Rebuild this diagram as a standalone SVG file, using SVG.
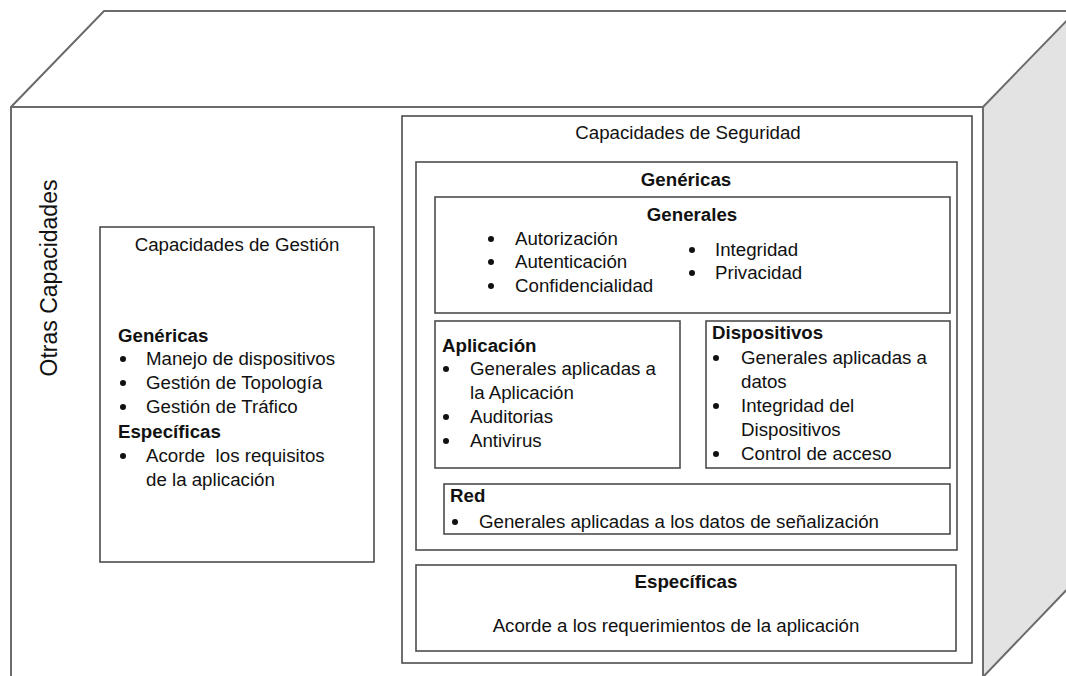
<svg xmlns="http://www.w3.org/2000/svg" width="1066" height="676" viewBox="0 0 1066 676">
<style>
text{font-family:"Liberation Sans",Arial,sans-serif;font-size:18.7px;fill:#111}
.b{font-weight:bold}
.m{text-anchor:middle}
.bl{fill:#111}
.box{fill:#fff;stroke:#4d4d4d;stroke-width:1.6}
.edge{fill:none;stroke:#6b6b6b;stroke-width:2}
</style>
<defs><circle id="dot" r="3" class="bl"/></defs>
<rect width="1066" height="676" fill="#fff"/>
<g id="cube">
<polygon points="983,107 1076,11 1076,580 983,677" fill="#e3e3e3" stroke="none"/>
<polyline class="edge" points="11,680 11,107 104,11 1080,11"/>
<line class="edge" x1="11" y1="107" x2="983" y2="107"/>
<line class="edge" x1="983" y1="107" x2="983" y2="680"/>
<line class="edge" x1="983" y1="107" x2="1076" y2="11"/>
<line class="edge" x1="983" y1="677" x2="1076" y2="580"/>
</g>
<g id="otras">
<text class="m" transform="translate(57,278) rotate(-90)" style="font-size:23px">Otras Capacidades</text>
</g>
<g id="gestion">
<rect class="box" x="100" y="227" width="274" height="335"/>
<text class="m" x="237" y="251">Capacidades de Gestión</text>
<text class="b" x="118" y="342">Genéricas</text>
<use href="#dot" x="123" y="359"/><text x="146" y="365">Manejo de dispositivos</text>
<use href="#dot" x="123" y="383"/><text x="146" y="389">Gestión de Topología</text>
<use href="#dot" x="123" y="407"/><text x="146" y="413">Gestión de Tráfico</text>
<text class="b" x="118" y="438">Específicas</text>
<use href="#dot" x="123" y="456"/><text x="146" y="462" style="white-space:pre">Acorde  los requisitos</text>
<text x="146" y="486">de la aplicación</text>
</g>
<g id="seguridad">
<rect class="box" x="402" y="116" width="570" height="547"/>
<text class="m" x="688" y="139">Capacidades de Seguridad</text>
</g>
<g id="genericas">
<rect class="box" x="416" y="162" width="541" height="388"/>
<text class="m b" x="686" y="186">Genéricas</text>
</g>
<g id="generales">
<rect class="box" x="435" y="197" width="515" height="116"/>
<text class="m b" x="692" y="221">Generales</text>
<use href="#dot" x="491" y="239"/><text x="515" y="245">Autorización</text>
<use href="#dot" x="491" y="262"/><text x="515" y="268">Autenticación</text>
<use href="#dot" x="491" y="286"/><text x="515" y="292">Confidencialidad</text>
<use href="#dot" x="692" y="250"/><text x="715" y="256">Integridad</text>
<use href="#dot" x="692" y="273"/><text x="715" y="279">Privacidad</text>
</g>
<g id="aplicacion">
<rect class="box" x="435" y="321" width="245" height="147"/>
<text class="b" x="442" y="352">Aplicación</text>
<use href="#dot" x="446" y="369"/><text x="470" y="375">Generales aplicadas a</text>
<text x="470" y="399">la Aplicación</text>
<use href="#dot" x="446" y="417"/><text x="470" y="423">Auditorias</text>
<use href="#dot" x="446" y="441"/><text x="470" y="447">Antivirus</text>
</g>
<g id="dispositivos">
<rect class="box" x="706" y="321" width="244" height="147"/>
<text class="b" x="712" y="339">Dispositivos</text>
<use href="#dot" x="716" y="358"/><text x="741" y="364">Generales aplicadas a</text>
<text x="741" y="388">datos</text>
<use href="#dot" x="716" y="406"/><text x="741" y="412">Integridad del</text>
<text x="741" y="436">Dispositivos</text>
<use href="#dot" x="716" y="454"/><text x="741" y="460">Control de acceso</text>
</g>
<g id="red">
<rect class="box" x="444" y="484" width="506" height="50"/>
<text class="b" x="450" y="502">Red</text>
<use href="#dot" x="455" y="522"/><text x="479" y="528">Generales aplicadas a los datos de señalización</text>
</g>
<g id="especificas">
<rect class="box" x="416" y="565" width="540" height="86"/>
<text class="m b" x="686" y="588">Específicas</text>
<text class="m" x="676" y="632">Acorde a los requerimientos de la aplicación</text>
</g>
<g id="connectors"/>
</svg>
